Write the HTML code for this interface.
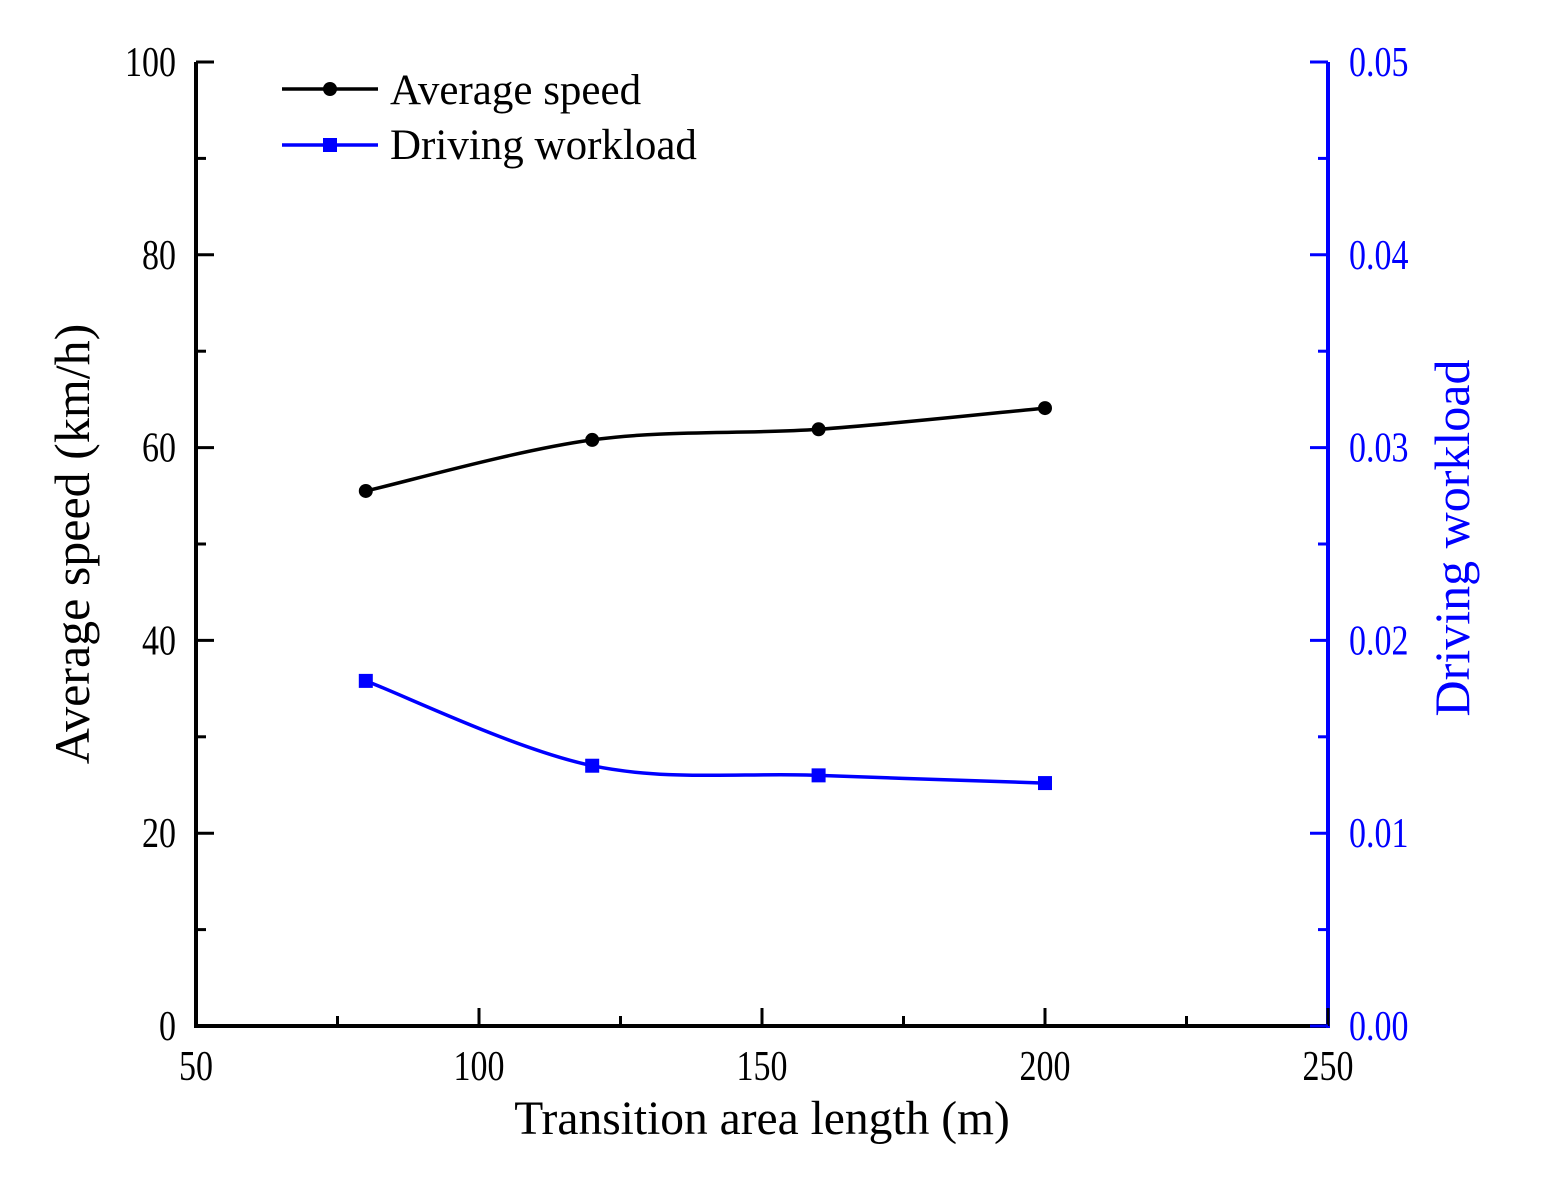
<!DOCTYPE html>
<html><head><meta charset="utf-8"><style>
html,body{margin:0;padding:0;background:#fff}
svg{display:block;font-family:"Liberation Serif",serif}
</style></head><body>
<svg id="chart" width="1543" height="1179" viewBox="0 0 1543 1179">
<g id="g"></g>
</svg>
<script>
const categories=[80,120,160,200];
const speedValues=[55.5,60.8,61.9,64.1];
const workloadValues=[0.0179,0.0135,0.0130,0.0126];
const xTicks=[50,100,150,200,250];
const leftTicks=[0,20,40,60,80,100];
const rightTicks=["0.00","0.01","0.02","0.03","0.04","0.05"];

const X0=196,X1=1328,Y0=1026,Y1=62;
const xs=v=>X0+(v-50)/200*(X1-X0);
const yl=v=>Y0-v/100*(Y0-Y1);
const yr=v=>Y0-v/0.05*(Y0-Y1);
const NS="http://www.w3.org/2000/svg";
const g=document.getElementById('g');
function mk(t,a,txt){const e=document.createElementNS(NS,t);for(const k in a)e.setAttribute(k,a[k]);if(txt!==undefined)e.textContent=txt;g.appendChild(e);return e;}
function smooth(p){let d=`M${p[0][0]},${p[0][1]}`;for(let i=0;i<p.length-1;i++){const p0=p[i-1]||p[i],p1=p[i],p2=p[i+1],p3=p[i+2]||p2;const c1=[p1[0]+(p2[0]-p0[0])/6,p1[1]+(p2[1]-p0[1])/6],c2=[p2[0]-(p3[0]-p1[0])/6,p2[1]-(p3[1]-p1[1])/6];d+=` C${c1[0]},${c1[1]} ${c2[0]},${c2[1]} ${p2[0]},${p2[1]}`;}return d;}
// tall narrow tick text
function tick(x,y,s,anchor,fill){const e=mk('text',{x:0,y:0,'text-anchor':anchor,'font-size':40,fill:fill,transform:`translate(${x},${y}) scale(0.85,1.05)`},s);return e;}

let e;
e=mk('line',{x1:X0,y1:Y1,x2:X0,y2:Y0+2,stroke:'#000','stroke-width':4});

e=mk('line',{x1:X0-2,y1:Y0,x2:X1,y2:Y0,stroke:'#000','stroke-width':4});

e=mk('line',{x1:X1,y1:Y1,x2:X1,y2:Y0+2,stroke:'#0000ff','stroke-width':4});


for(let v=50;v<=250;v+=25){const maj=v%50===0;mk('line',{x1:xs(v),y1:Y0,x2:xs(v),y2:Y0-(maj?18:10),stroke:'#000','stroke-width':3});}
xTicks.forEach(v=>{e=tick(xs(v),1080,v,'middle','#000');
});
for(let v=0;v<=100;v+=10){const maj=v%20===0;mk('line',{x1:X0,y1:yl(v),x2:X0+(maj?18:10),y2:yl(v),stroke:'#000','stroke-width':3});}
leftTicks.forEach(v=>{e=tick(176,yl(v)+14,v,'end','#000');
});
for(let i=0;i<=10;i++){const v=i*0.005;const maj=i%2===0;mk('line',{x1:X1,y1:yr(v),x2:X1-(maj?18:10),y2:yr(v),stroke:'#0000ff','stroke-width':3});}
rightTicks.forEach(s=>{e=tick(1349,yr(parseFloat(s))+14,s,'start','#0000ff');
});

e=mk('text',{x:762,y:1134,'text-anchor':'middle','font-size':47.5},'Transition area length (m)');

e=mk('text',{x:0,y:0,'text-anchor':'middle','font-size':50,transform:'translate(89,544) rotate(-90)'},'Average speed (km/h)');

e=mk('text',{x:0,y:0,'text-anchor':'middle','font-size':50,fill:'#0000ff',transform:'translate(1469,538) rotate(-90)'},'Driving workload');


const sp=categories.map((c,i)=>[xs(c),yl(speedValues[i])]);
e=mk('path',{d:smooth(sp),fill:'none',stroke:'#000','stroke-width':3.5});

sp.forEach(p=>{e=mk('circle',{cx:p[0],cy:p[1],r:7,fill:'#000'});
});
const wp=categories.map((c,i)=>[xs(c),yr(workloadValues[i])]);
e=mk('path',{d:smooth(wp),fill:'none',stroke:'#0000ff','stroke-width':3.5});

wp.forEach(p=>{e=mk('rect',{x:p[0]-7,y:p[1]-7,width:14,height:14,fill:'#0000ff'});
});

mk('line',{x1:282,y1:89,x2:378,y2:89,stroke:'#000','stroke-width':3.5});
mk('circle',{cx:330,cy:89,r:7,fill:'#000'});
e=mk('text',{x:390,y:104,'font-size':43},'Average speed');

mk('line',{x1:282,y1:145,x2:378,y2:145,stroke:'#0000ff','stroke-width':3.5});
mk('rect',{x:323,y:138,width:14,height:14,fill:'#0000ff'});
e=mk('text',{x:390,y:159,'font-size':43},'Driving workload');

</script>
</body></html>
